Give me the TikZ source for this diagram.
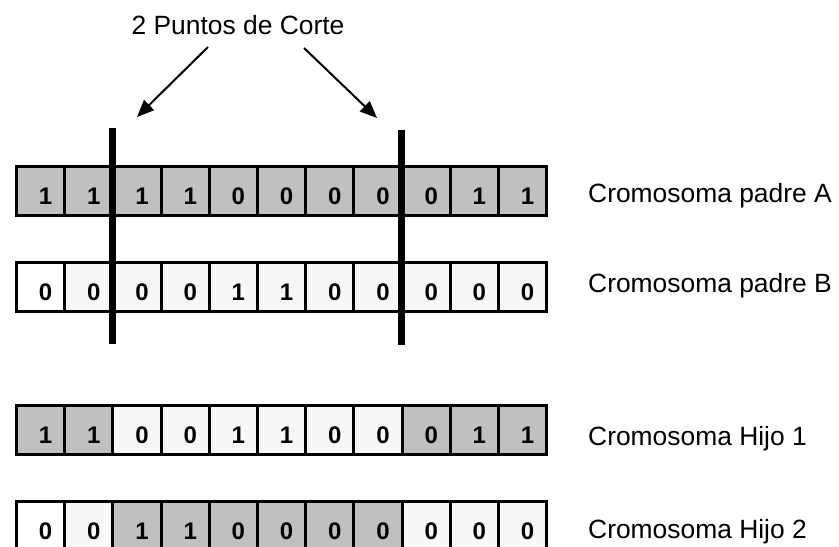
\documentclass[tikz,border=0pt]{standalone}
\usepackage{fontspec}
\setmainfont{Liberation Sans}
\usetikzlibrary{arrows.meta,positioning}

\definecolor{gris}{HTML}{C0C0C0}
\definecolor{claro}{HTML}{F8F8F8}

\tikzset{
	celda/.style={draw=black, line width=3bp, minimum width=48.2bp, minimum height=49bp, inner sep=0pt, anchor=north west},
	g/.style={celda, fill=gris},
	w/.style={celda, fill=claro},
	b/.style={celda, fill=white},
	digito/.style={font=\fontsize{24bp}{24bp}\selectfont\bfseries, anchor=base, inner sep=0pt},
	etiqueta/.style={font=\fontsize{26.4bp}{30bp}\selectfont, anchor=base west, inner sep=0pt},
	corte/.style={line width=7bp},
	flecha/.style={-{Triangle[length=17bp,width=14bp]}, line width=2bp}
}

\begin{document}
\begin{tikzpicture}[x=1bp, y=-1bp]
	\useasboundingbox (0,0) rectangle (839,547);

	%%%%% CROMOSOMAS %%%%%
	\foreach \d/\s [count=\i from 0] in {1/g,1/g,1/g,1/g,0/g,0/g,0/g,0/g,0/g,1/g,1/g}{
		\node[\s] (A\i) at (15+48.2*\i, 165) {};
		\node[digito] at ([xshift=5bp, yshift=12.5bp]A\i.south) {\d};
	}
	\foreach \d/\s [count=\i from 0] in {0/b,0/w,0/w,0/w,1/w,1/w,0/w,0/w,0/w,0/w,0/w}{
		\node[\s] (B\i) at (15+48.2*\i, 261) {};
		\node[digito] at ([xshift=5bp, yshift=12.5bp]B\i.south) {\d};
	}
	\foreach \d/\s [count=\i from 0] in {1/g,1/g,0/w,0/w,1/w,1/w,0/w,0/w,0/g,1/g,1/g}{
		\node[\s] (H\i) at (15+48.2*\i, 404) {};
		\node[digito] at ([xshift=5bp, yshift=12.5bp]H\i.south) {\d};
	}
	\foreach \d/\s [count=\i from 0] in {0/b,0/w,1/g,1/g,0/g,0/g,0/g,0/g,0/w,0/w,0/w}{
		\node[\s] (K\i) at (15+48.2*\i, 500) {};
		\node[digito] at ([xshift=5bp, yshift=12.5bp]K\i.south) {\d};
	}

	%%%%% ETIQUETAS %%%%%
	\node[etiqueta] (labA) at (588, 203) {Cromosoma padre A};
	\node[etiqueta] (labB) at (588, 293) {Cromosoma padre B};
	\node[etiqueta] (labH) at (588, 445) {Cromosoma Hijo 1};
	\node[etiqueta] (labK) at (588, 538) {Cromosoma Hijo 2};

	%%%%% PUNTOS DE CORTE %%%%%
	\coordinate (c1a) at (112.5, 128);
	\coordinate (c1b) at (112.5, 344);
	\coordinate (c2a) at (401, 130);
	\coordinate (c2b) at (401, 345);
	\draw[corte] (c1a) -- (c1b);
	\draw[corte] (c2a) -- (c2b);

	\node[etiqueta, anchor=base] (titulo) at (238, 35) {2 Puntos de Corte};
	\coordinate (f1a) at (208, 47);
	\coordinate (f1b) at (137, 117);
	\coordinate (f2a) at (304, 48);
	\coordinate (f2b) at (377, 118);
	\draw[flecha] (f1a) -- (f1b);
	\draw[flecha] (f2a) -- (f2b);
\end{tikzpicture}
\end{document}
